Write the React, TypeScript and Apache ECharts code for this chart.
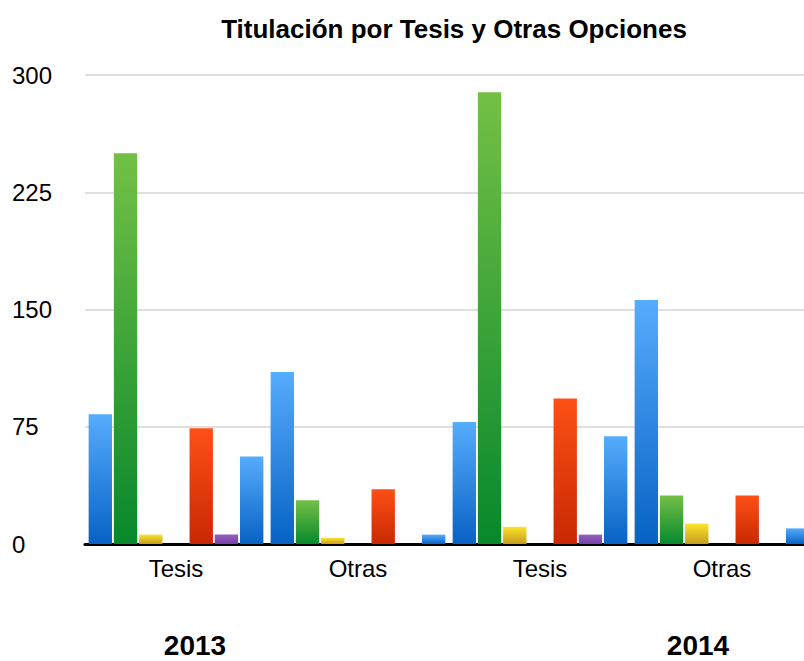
import React, { useEffect, useRef } from "react";
import * as echarts from "echarts";

const categories = ["Tesis", "Otras", "Tesis", "Otras"];
const yearLabels = ["2013", "2014"];
const yTicks = [0, 75, 150, 225, 300];

const serieAzul1 = [83, 110, 78, 156];
const serieVerde = [250, 28, 289, 31];
const serieAmarilla = [6, 4, 11, 13];
const serieVacia = [0, 0, 0, 0];
const serieRoja = [74, 35, 93, 31];
const serieMorada = [6, 0, 6, 0];
const serieAzul2 = [56, 6, 69, 10];

const grad = (top: string, bottom: string) =>
  new echarts.graphic.LinearGradient(0, 0, 0, 1, [
    { offset: 0, color: top },
    { offset: 1, color: bottom },
  ]);

export default function App() {
  const ref = useRef<HTMLDivElement>(null);
  useEffect(() => {
    if (!ref.current) return;
    const chart = echarts.init(ref.current, null, { renderer: "svg" });
    const font = "'Liberation Sans', Arial, Helvetica, sans-serif";
    const mk = (name: string, data: number[], top: string, bottom: string) => ({
      name,
      type: "bar",
      data,
      barGap: "8%",
      barCategoryGap: "4%",
      itemStyle: { color: grad(top, bottom) },
    });
    chart.setOption({
      animation: false,
      textStyle: { fontFamily: font },
      title: {
        text: "Titulación por Tesis y Otras Opciones",
        left: 449,
        top: 11,
        textAlign: "center",
        textStyle: { fontFamily: font, fontWeight: "bold", fontSize: 26, color: "#000" },
      },
      grid: {
        left: 85,
        top: 75,
        right: -9,
        bottom: 117,
        containLabel: false,
        outerBoundsMode: "none",
      },
      xAxis: {
        type: "category",
        data: categories,
        axisLine: { lineStyle: { color: "#000", width: 3 } },
        axisTick: { show: false },
        axisLabel: { fontSize: 24, color: "#000", margin: 12, fontFamily: font },
      },
      yAxis: {
        type: "value",
        min: yTicks[0],
        max: yTicks[yTicks.length - 1],
        interval: 75,
        axisLine: { show: false },
        axisTick: { show: false },
        axisLabel: { fontSize: 24, color: "#000", align: "left", margin: 73, fontFamily: font },
        splitLine: { lineStyle: { color: "#d4d4d4", width: 1.5 } },
      },
      graphic: [
        {
          type: "text",
          x: 195,
          y: 645,
          style: {
            text: yearLabels[0],
            font: `bold 28px ${font}`,
            fill: "#000",
            textAlign: "center",
            textVerticalAlign: "middle",
          },
        },
        {
          type: "text",
          x: 698,
          y: 645,
          style: {
            text: yearLabels[1],
            font: `bold 28px ${font}`,
            fill: "#000",
            textAlign: "center",
            textVerticalAlign: "middle",
          },
        },
      ],
      series: [
        mk("Serie 1", serieAzul1, "#56acfd", "#0862c4"),
        mk("Serie 2", serieVerde, "#74c046", "#07882c"),
        mk("Serie 3", serieAmarilla, "#fde32c", "#c59c1e"),
        mk("Serie 4", serieVacia, "#9a9a9a", "#666666"),
        mk("Serie 5", serieRoja, "#fe5016", "#c82803"),
        mk("Serie 6", serieMorada, "#925fbd", "#7641a5"),
        mk("Serie 7", serieAzul2, "#56acfd", "#0862c4"),
      ],
    });
    return () => chart.dispose();
  }, []);
  return (
    <div
      ref={ref}
      style={{ position: "absolute", left: 0, top: 0, width: 804, height: 661, background: "#fff" }}
    />
  );
}
